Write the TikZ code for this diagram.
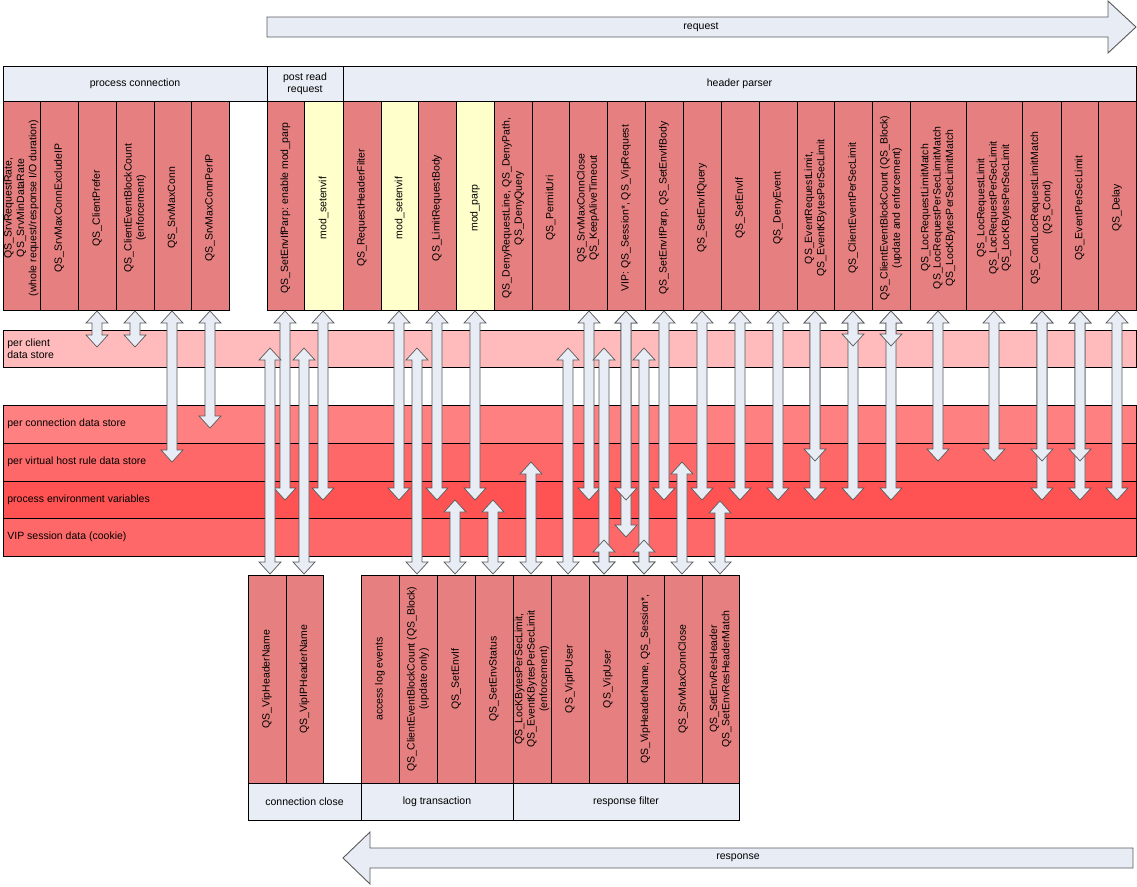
\documentclass[tikz,border=0pt]{standalone}
\usepackage{fontspec}
\setmainfont{Liberation Sans}
\definecolor{colred}{RGB}{230,128,128}
\definecolor{colyel}{RGB}{255,255,204}
\definecolor{hdrblue}{RGB}{233,237,245}
\definecolor{storeA}{RGB}{255,187,187}
\definecolor{storeB}{RGB}{255,128,128}
\definecolor{storeC}{RGB}{255,104,104}
\definecolor{storeD}{RGB}{255,82,82}
\definecolor{arrfill}{RGB}{232,236,245}
\definecolor{arrline}{RGB}{90,90,90}
\newcommand{\updown}[3]{%
  \draw[blockarrow] (#1,#2) -- ++(11,12) -- ++(-6,0) -- (#1+5,#3-12) -- ++(6,0)
    -- (#1,#3) -- ++(-11,-12) -- ++(6,0) -- (#1-5,#2+12) -- ++(-6,0) -- cycle;}

\begin{document}
\begin{tikzpicture}[x=1pt, y=-1pt, line width=0.8pt,
  every node/.style={font=\fontsize{10.5}{12.4}\selectfont, inner sep=0pt},
  stagebox/.style={draw, fill=hdrblue},
  blockarrow/.style={draw=arrline, fill=arrfill, line width=0.7pt},
  bigarrow/.style={draw=arrline, fill=arrfill, line width=0.9pt}]
\useasboundingbox (0,0) rectangle (1137,886);

\draw[bigarrow] (267,17) -- (1108,17) -- (1108,1) -- (1136,27) -- (1108,53) -- (1108,37) -- (267,37) -- cycle;
\node (req) at (701,27) {request};
\draw[bigarrow] (1133,848) -- (370,848) -- (370,832) -- (343,858) -- (370,884) -- (370,868) -- (1133,868) -- cycle;
\node (resp) at (738,858) {response};

\foreach \xa/\xb/\name/\txt in {3/267/procconn/process connection, 267/343/postread/{post read\\request}, 343/1136/hdrparser/header parser}
{\draw[stagebox] (\xa,66) rectangle (\xb,101);
 \node[align=center] (\name) at ({(\xa+\xb)/2},83.5) {\txt};}

\foreach \ya/\yb/\fc/\name/\txt in {330/367/storeA/perclient/{per client\\data store},
  405/443/storeB/perconn/per connection data store, 443/481/storeC/pervhost/per virtual host rule data store,
  481/518/storeD/procenv/process environment variables, 518/556/storeC/vipsess/VIP session data (cookie)}
{\draw[fill=\fc] (3,\ya) rectangle (1136,\yb);
 \node[anchor=west, align=left] (\name) at (7,{(\ya+\yb)/2}) {\txt};}

\foreach \xa/\xb/\fc/\txt [count=\i] in {
  3/40/colred/{QS\_SrvRequestRate,\\QS\_SrvMinDataRate\\(whole request/response I/O duration)},
  40/78/colred/{QS\_SrvMaxConnExcludeIP},
  78/116/colred/{QS\_ClientPrefer},
  116/154/colred/{QS\_ClientEventBlockCount\\(enforcement)},
  154/191/colred/{QS\_SrvMaxConn},
  191/229/colred/{QS\_SrvMaxConnPerIP},
  267/304/colred/{QS\_SetEnvIfParp: enable mod\_parp},
  304/343/colyel/{mod\_setenvif},
  343/381/colred/{QS\_RequestHeaderFilter},
  381/418/colyel/{mod\_setenvif},
  418/456/colred/{QS\_LimitRequestBody},
  456/494/colyel/{mod\_parp},
  494/532/colred/{QS\_DenyRequestLine, QS\_DenyPath,\\QS\_DenyQuery},
  532/569/colred/{QS\_PermitUri},
  569/607/colred/{QS\_SrvMaxConnClose\\QS\_KeepAliveTimeout},
  607/645/colred/{VIP: QS\_Session*, QS\_VipRequest},
  645/683/colred/{QS\_SetEnvIfParp, QS\_SetEnvIfBody},
  683/721/colred/{QS\_SetEnvIfQuery},
  721/759/colred/{QS\_SetEnvIf},
  759/797/colred/{QS\_DenyEvent},
  797/834/colred/{QS\_EventRequestLimit,\\QS\_EventKBytesPerSecLimit},
  834/872/colred/{QS\_ClientEventPerSecLimit},
  872/910/colred/{QS\_ClientEventBlockCount (QS\_Block)\\(update and enforcement)},
  910/966/colred/{QS\_LocRequestLimitMatch\\QS\_LocRequestPerSecLimitMatch\\QS\_LocKBytesPerSecLimitMatch},
  966/1022/colred/{QS\_LocRequestLimit\\QS\_LocRequestPerSecLimit\\QS\_LocKBytesPerSecLimit},
  1022/1061/colred/{QS\_CondLocRequestLimitMatch\\(QS\_Cond)},
  1061/1098/colred/{QS\_EventPerSecLimit},
  1098/1136/colred/{QS\_Delay}}
{\draw[fill=\fc] (\xa,101) rectangle (\xb,310);
 \node[rotate=90, align=center] (in\i) at ({(\xa+\xb)/2},208) {\txt};}

\foreach \xa/\xb/\txt [count=\i] in {
  248/286/{QS\_VipHeaderName},
  286/323/{QS\_VipIPHeaderName},
  361/399/{access log events},
  399/437/{QS\_ClientEventBlockCount (QS\_Block)\\(update only)},
  437/475/{QS\_SetEnvIf},
  475/513/{QS\_SetEnvStatus},
  513/551/{QS\_LocKBytesPerSecLimit,\\QS\_EventKBytesPerSecLimit\\(enforcement)},
  551/589/{QS\_VipIPUser},
  589/627/{QS\_VipUser},
  627/664/{QS\_VipHeaderName, QS\_Session*,},
  664/702/{QS\_SrvMaxConnClose},
  702/739/{QS\_SetEnvResHeader\\QS\_SetEnvResHeaderMatch}}
{\draw[fill=colred] (\xa,575) rectangle (\xb,783);
 \node[rotate=90, align=center] (out\i) at ({(\xa+\xb)/2},679) {\txt};}

\foreach \xa/\xb/\name/\txt in {248/361/connclose/connection close, 361/513/logtrans/log transaction, 513/739/resfilter/response filter}
{\draw[stagebox] (\xa,783) rectangle (\xb,820);
 \node (\name) at ({(\xa+\xb)/2},801.5) {\txt};}

\foreach \ax/\ay in {97/347, 135/347, 172/462, 210/428, 285/500, 323/500, 399/500, 437/500, 475/500,
  589/500, 626/537, 626/500, 664/500, 702/500, 740/500, 778/500, 815/500, 815/461, 853/500, 853/346,
  891/500, 891/346, 938/461, 994/461, 1042/500, 1042/461, 1080/500, 1080/461, 1117/500}
  \updown{\ax}{311}{\ay};

\foreach \ax/\ay in {270/348, 304/348, 417/348, 455/500, 493/500, 531/462, 568/348, 604/348, 604/540,
  644/348, 644/540, 682/462, 720/501}
  \updown{\ax}{\ay}{574};
\end{tikzpicture}
\end{document}
